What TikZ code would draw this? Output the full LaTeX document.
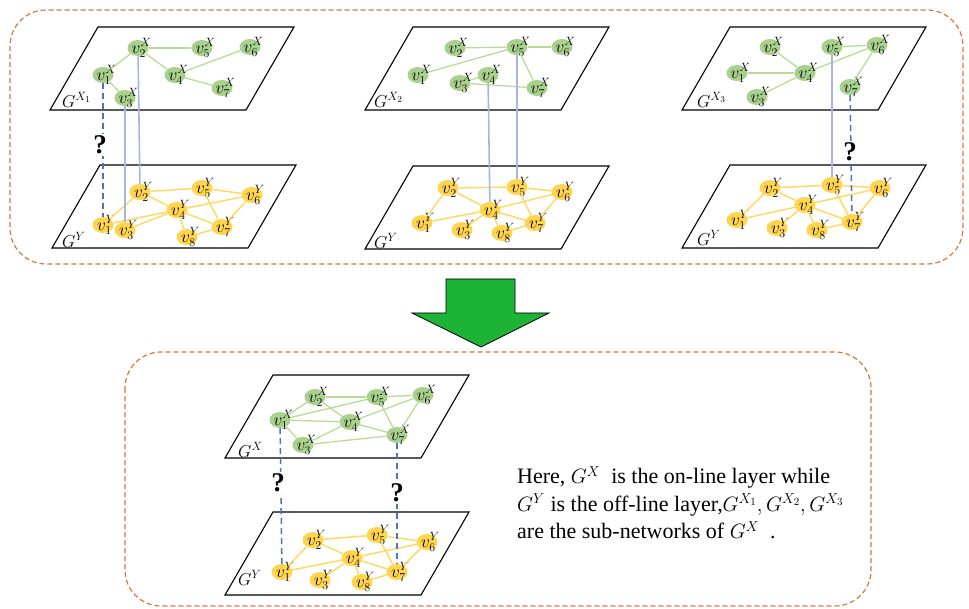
\documentclass[tikz,border=0pt]{standalone}
\usepackage{fontspec}
\setmainfont{Liberation Serif}
\usetikzlibrary{shapes.geometric}
\definecolor{gnode}{HTML}{A9D18E}
\definecolor{gline}{HTML}{B9DC95}
\definecolor{ynode}{HTML}{FFD550}
\definecolor{yline}{HTML}{FFD966}
\definecolor{lblue}{HTML}{A2B8E2}
\definecolor{dblue}{HTML}{4A74C2}
\definecolor{obox}{HTML}{D7763A}
\definecolor{garrow}{HTML}{1CB336}
\tikzset{
  Xnode/.style={ellipse, fill=gnode, minimum width=21pt, minimum height=16pt, inner sep=0pt},
  Ynode/.style={ellipse, fill=ynode, minimum width=21pt, minimum height=16pt, inner sep=0pt},
  vlab/.style={inner sep=0pt, font=\fontsize{18}{18}\selectfont},
  gedge/.style={gline, line width=1.3pt},
  yedge/.style={yline, line width=1.5pt},
  link/.style={lblue, line width=1.6pt},
  qlink/.style={dblue, line width=1.5pt, dash pattern=on 6pt off 4pt},
  plane/.style={draw=black, line width=1.1pt},
  glab/.style={anchor=west, inner sep=0pt, font=\fontsize{18}{18}\selectfont},
  qmark/.style={fill=white, inner sep=1.5pt, font=\fontsize{27}{27}\selectfont\bfseries},
  frame/.style={obox, line width=1.2pt, dash pattern=on 5pt off 3pt, rounded corners=36pt}
}
\newcommand\planeat[2]{\draw[plane] (#1,#2) -- ++(196,0) -- ++(-48,83) -- ++(-196,0) -- cycle;}
\newcommand\vn[5]{%
  \node[#4node] (#1) at (#2,#3) {};
  \node[vlab] (#1l) at ([xshift=3.5pt]#1.center) {$v^{#4}_{#5}$};}
\begin{document}
\begin{tikzpicture}[x=1pt,y=-1pt]
\useasboundingbox (0,0) rectangle (969,609);
% frames
\draw[frame] (10,10) rectangle (963,264);
\draw[frame] (125,352) rectangle (871,606);
% arrow
\draw[fill=garrow, line width=0.8pt, line join=miter] (446,279) -- (515,279) -- (515,313) -- (549,313) -- (481,347) -- (412,313) -- (446,313) -- cycle;
% planes
\planeat{98}{27}\planeat{100}{165}
\planeat{413}{27}\planeat{413}{166}
\planeat{730}{27}\planeat{730}{165}
\planeat{273}{375}\planeat{273}{512}
% plane labels
\node[glab] (gA1) at (62,100) {$G^{X_1}$};
\node[glab] (gA2) at (62,240) {$G^{Y}$};
\node[glab] (gB1) at (374,100) {$G^{X_2}$};
\node[glab] (gB2) at (374,241) {$G^{Y}$};
\node[glab] (gC1) at (697,100) {$G^{X_3}$};
\node[glab] (gC2) at (697,238) {$G^{Y}$};
\node[glab] (gD1) at (238,450) {$G^{X}$};
\node[glab] (gD2) at (238,578) {$G^{Y}$};
% ---------- panel A ----------
\vn{AX1}{103}{75}{X}{1}\vn{AX2}{138}{48}{X}{2}\vn{AX3}{125}{98}{X}{3}\vn{AX4}{175}{75}{X}{4}
\vn{AX5}{202}{48}{X}{5}\vn{AX6}{250}{47}{X}{6}\vn{AX7}{222}{88}{X}{7}
\vn{AY1}{103}{225}{Y}{1}\vn{AY2}{140}{192}{Y}{2}\vn{AY3}{125}{230}{Y}{3}\vn{AY4}{177}{210}{Y}{4}
\vn{AY5}{202}{188}{Y}{5}\vn{AY6}{252}{195}{Y}{6}\vn{AY7}{222}{227}{Y}{7}\vn{AY8}{187}{237}{Y}{8}
\foreach \a/\b in {1/2,1/3,2/5,2/4,4/6,4/7} \draw[gedge] (AX\a) -- (AX\b);
% ---------- panel B ----------
\vn{BX1}{418}{75}{X}{1}\vn{BX2}{455}{48}{X}{2}\vn{BX3}{460}{83}{X}{3}\vn{BX4}{488}{75}{X}{4}
\vn{BX5}{517}{47}{X}{5}\vn{BX6}{562}{47}{X}{6}\vn{BX7}{537}{88}{X}{7}
\vn{BY1}{422}{223}{Y}{1}\vn{BY2}{448}{188}{Y}{2}\vn{BY3}{462}{230}{Y}{3}\vn{BY4}{490}{210}{Y}{4}
\vn{BY5}{517}{187}{Y}{5}\vn{BY6}{562}{192}{Y}{6}\vn{BY7}{535}{223}{Y}{7}\vn{BY8}{502}{233}{Y}{8}
\foreach \a/\b in {2/5,5/6,1/5,5/7,3/4,3/7} \draw[gedge] (BX\a) -- (BX\b);
% ---------- panel C ----------
\vn{CX1}{737}{73}{X}{1}\vn{CX2}{770}{47}{X}{2}\vn{CX3}{757}{97}{X}{3}\vn{CX4}{805}{73}{X}{4}
\vn{CX5}{832}{47}{X}{5}\vn{CX6}{877}{45}{X}{6}\vn{CX7}{850}{87}{X}{7}
\vn{CY1}{737}{220}{Y}{1}\vn{CY2}{770}{188}{Y}{2}\vn{CY3}{777}{228}{Y}{3}\vn{CY4}{805}{205}{Y}{4}
\vn{CY5}{832}{185}{Y}{5}\vn{CY6}{880}{188}{Y}{6}\vn{CY7}{852}{222}{Y}{7}\vn{CY8}{817}{230}{Y}{8}
\foreach \a/\b in {2/4,1/4,3/4,4/6,5/6,6/7} \draw[gedge] (CX\a) -- (CX\b);
% ---------- panel D ----------
\vn{DX1}{280}{420}{X}{1}\vn{DX2}{315}{397}{X}{2}\vn{DX3}{303}{445}{X}{3}\vn{DX4}{350}{422}{X}{4}
\vn{DX5}{377}{397}{X}{5}\vn{DX6}{423}{395}{X}{6}\vn{DX7}{397}{435}{X}{7}
\vn{DY1}{282}{572}{Y}{1}\vn{DY2}{313}{540}{Y}{2}\vn{DY3}{320}{580}{Y}{3}\vn{DY4}{352}{558}{Y}{4}
\vn{DY5}{377}{535}{Y}{5}\vn{DY6}{427}{542}{Y}{6}\vn{DY7}{397}{572}{Y}{7}\vn{DY8}{362}{582}{Y}{8}
\foreach \a/\b in {1/2,1/5,1/4,1/3,2/4,2/5,5/6,5/7,6/4,6/7,4/7,3/4,3/7} \draw[gedge] (DX\a) -- (DX\b);
% Y edges (same in every panel)
\foreach \p in {A,B,C,D}
  \foreach \a/\b in {1/2,1/4,2/5,2/4,3/4,4/6,4/7,4/8,5/6,5/7,6/7,7/8}
    \draw[yedge] (\p Y\a) -- (\p Y\b);
% inter-layer links
\draw[link] (AX2) -- (AY2);
\draw[link] (AX3) -- (AY3);
\draw[qlink] (AX1) -- (AY1);
\draw[link] (BX4) -- (BY4);
\draw[link] (BX5) -- (BY5);
\draw[link] (CX5) -- (CY5);
\draw[qlink] (CX7) -- (CY7);
\draw[qlink] (DX1) -- (DY1);
\draw[qlink] (DX7) -- (DY7);
\node[qmark] (qA) at (100,145) {?};
\node[qmark] (qC) at (850,152) {?};
\node[qmark] (qD1) at (278,483) {?};
\node[qmark] (qD2) at (397,493) {?};
% text
\node[anchor=north west, inner sep=0pt, align=left, font=\fontsize{22}{27.5}\selectfont] (txt) at (517,466)
  {Here,~$G^X$~ is the on-line layer while\\
   $G^Y$ is the off-line layer,$G^{X_1}, G^{X_2}, G^{X_3}$\\
   are the sub-networks of $G^X$~ .};
\end{tikzpicture}
\end{document}
